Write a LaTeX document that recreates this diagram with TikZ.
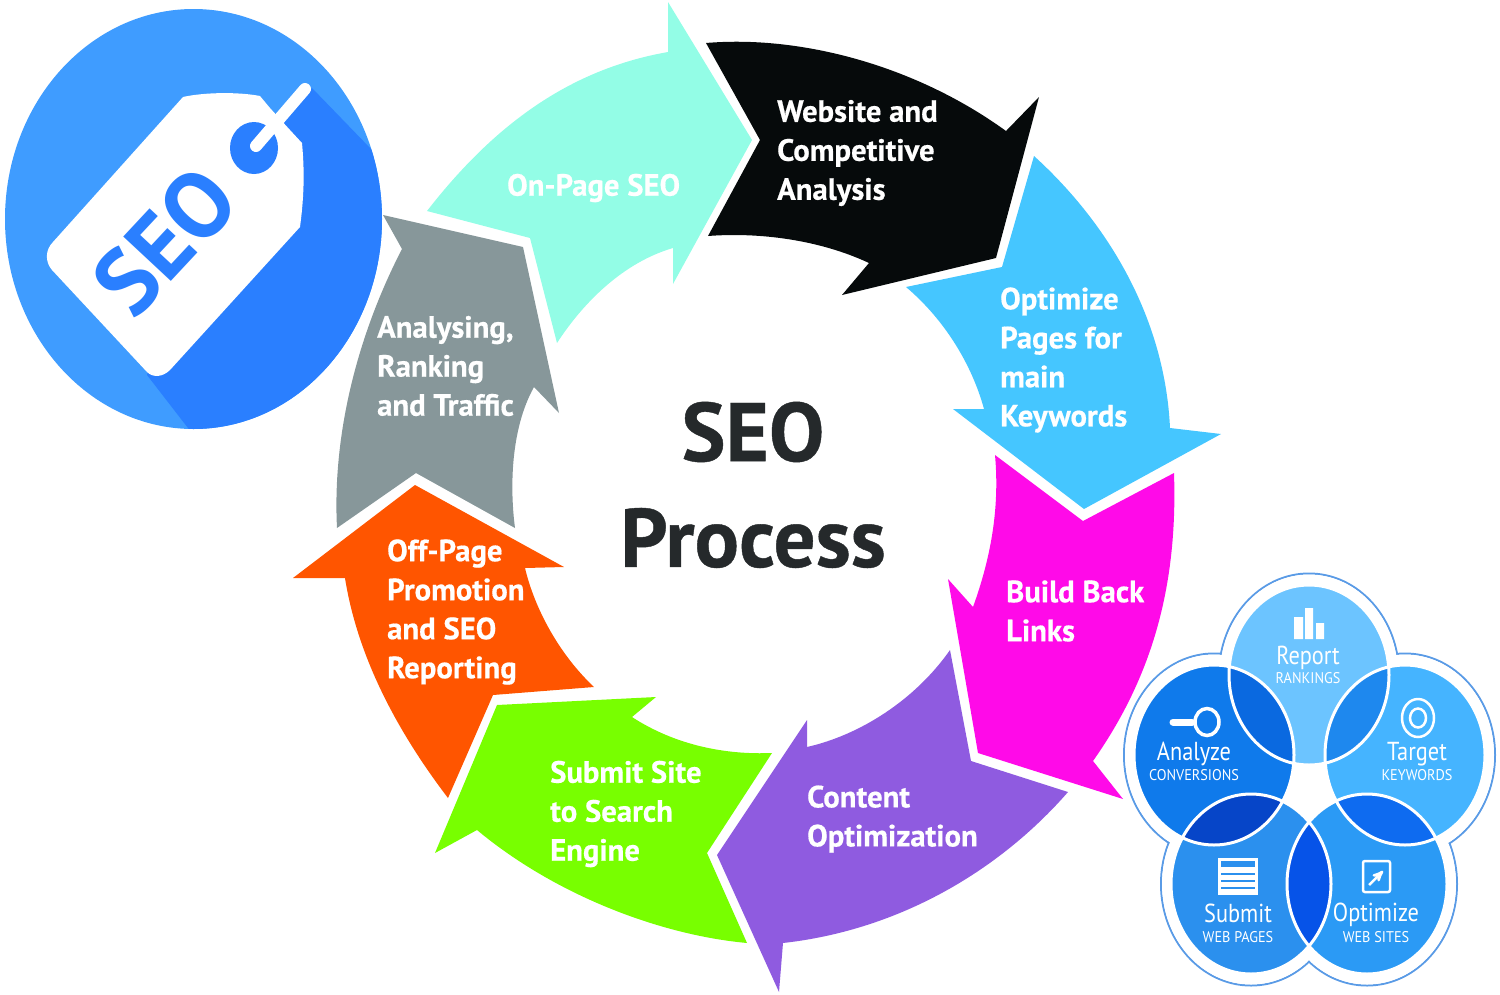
\documentclass[tikz,border=0pt]{standalone}
\usepackage{fontspec}
\setmainfont{PT Sans}[BoldFeatures={FakeBold=0.5}]
\newfontfamily\tagfont{PT Sans}
\newfontfamily\vennfont{PT Sans}[FakeStretch=0.86]
\newfontfamily\vennsmall{PT Sans}[FakeStretch=0.92]
\usetikzlibrary{arrows, positioning}
\definecolor{onpage}{HTML}{93FDE6}
\definecolor{website}{HTML}{060A0B}
\definecolor{optimize}{HTML}{45C6FF}
\definecolor{backlink}{HTML}{FF0AE8}
\definecolor{content}{HTML}{8F5BE0}
\definecolor{submit}{HTML}{78FF00}
\definecolor{offpage}{HTML}{FF5500}
\definecolor{ranking}{HTML}{87979A}
\definecolor{titletext}{HTML}{25292B}
\definecolor{tagback}{HTML}{3F9CFF}
\definecolor{tagdark}{HTML}{2A7FFF}
\definecolor{vReport}{HTML}{6CC4FF}
\definecolor{vAnalyze}{HTML}{0F7AEB}
\definecolor{vTarget}{HTML}{45B4FF}
\definecolor{vSubmit}{HTML}{2B90EE}
\definecolor{vOptimize}{HTML}{2B9AF5}
\definecolor{lensRA}{HTML}{0A69E0}
\definecolor{lensRT}{HTML}{1E88EE}
\definecolor{lensAS}{HTML}{0645C8}
\definecolor{lensTO}{HTML}{0E6BF0}
\definecolor{lensSO}{HTML}{0653E8}
\definecolor{halo}{HTML}{5A9BE6}

\begin{document}
\begin{tikzpicture}
	[x=1pt,y=-1pt,>=stealth',
	step label/.style={font=\bfseries\fontsize{30.7}{39}\selectfont,text=white,align=left,anchor=west,inner sep=0pt},
	title label/.style={font=\bfseries\fontsize{83}{100}\selectfont,text=titletext,inner sep=0pt},
	venn big/.style={font=\vennfont\fontsize{26}{30}\selectfont,text=white,inner sep=0pt},
	venn small/.style={font=\vennsmall\fontsize{15.5}{18}\selectfont,text=white,inner sep=0pt}]
	\useasboundingbox (0,0) rectangle (1500,994);

	% tag logo
	\coordinate (logo) at (193.5,219);
	\fill[tagback] (logo) ellipse [x radius=188.5,y radius=210];
	\begin{scope}
		\clip (logo) ellipse [x radius=188.5,y radius=210];
		\fill[tagdark] (312,88) -- (430,210) -- (430,450) -- (205,450) -- (147,375) -- (200,200) -- cycle;
	\end{scope}
	\fill[white] (183,97) .. controls (205,92) and (240,92) .. (260,96) -- (270,108) -- (290,130) -- (302,143)
		.. controls (304,165) and (305,190) .. (300,227) -- (170,370)
		.. controls (163,377) and (153,378) .. (147,372) -- (52,270)
		.. controls (45,262) and (45,250) .. (53,242) -- cycle;
	\fill[tagdark] (254,148) ellipse [x radius=24,y radius=26];
	\draw[white,line width=12pt,line cap=round] (256,146) -- (305,89);
	\node (tagtext) [rotate=47,text=tagdark,inner sep=0pt,font=\tagfont\bfseries\fontsize{93}{100}\selectfont] at (165,241) {SEO};

	% the eight arrows
	\fill[ranking] (383,215) -- (523,247) -- (559,413) -- (534,387) .. controls (510,430) and (510,490) .. (515,528)
		-- (416,473) -- (337,528) .. controls (332,430) and (360,330) .. (402,249) -- cycle;
	\fill[onpage] (427,211) .. controls (490,130) and (565,70) .. (668,52) -- (668,2) -- (752,140) -- (673,284) -- (673,248)
		.. controls (625,262) and (585,300) .. (557,343) -- (530,238) -- cycle;
	\fill[website] (706,43) .. controls (800,35) and (915,65) .. (1006,131) -- (1039,97) -- (996,258) -- (842,295) -- (869,263)
		.. controls (820,240) and (760,232) .. (708,236) -- (760,140) -- cycle;
	\fill[optimize] (1034,156) .. controls (1110,225) and (1165,320) .. (1170,428) -- (1221,434) -- (1084,509) -- (953,409)
		-- (984,409) .. controls (972,365) and (945,320) .. (906,287) -- (1002,267) -- cycle;
	\fill[backlink] (995,455) -- (1083,521) -- (1174,473) .. controls (1178,590) and (1150,680) .. (1093,761) -- (1123,799)
		-- (978,753) -- (948,579) -- (973,607) .. controls (990,560) and (1000,510) .. (995,455) -- cycle;
	\fill[content] (950,650) -- (971,761) -- (1068,792) .. controls (1000,870) and (900,930) .. (783,943) -- (779,992)
		-- (717,855) -- (807,720) -- (807,747) .. controls (860,735) and (915,700) .. (950,650) -- cycle;
	\fill[submit] (497,705) -- (656,697) -- (632,717) .. controls (675,745) and (725,755) .. (772,753) -- (707,853) -- (747,943)
		.. controls (660,935) and (555,895) .. (477,830) -- (435,853) -- cycle;
	\fill[offpage] (415,485) -- (564,567) -- (525,568) .. controls (535,610) and (560,655) .. (594,687) -- (493,695) -- (448,798)
		.. controls (400,735) and (358,660) .. (345,578) -- (293,578) -- cycle;

	\node (OnPage) [step label] at (507,188) {On-Page SEO};
	\node (Website) [step label] at (777,153) {Website and\\Competitive\\Analysis};
	\node (Pages) [step label] at (1000,360) {Optimize\\Pages for\\main\\Keywords};
	\node (Links) [step label] at (1006,611) {Build Back\\Links};
	\node (Content) [step label] at (807,819) {Content\\Optimization};
	\node (Engine) [step label] at (550,814) {Submit Site\\to Search\\Engine};
	\node (OffPage) [step label] at (387,612) {Off-Page\\Promotion\\and SEO\\Reporting};
	\node (Traffic) [step label] at (377,366) {Analysing,\\Ranking\\and Traffic};

	\node (Seo) [title label] at (753,432) {SEO};
	\node (Process) [title label] at (753,538) {Process};

	% five circles
	\coordinate (R) at (1309,675);
	\coordinate (A) at (1214,755);
	\coordinate (T) at (1405,755);
	\coordinate (S) at (1251,884);
	\coordinate (O) at (1367,884);
	\foreach \c in {R,A,T,S,O}
		\draw[halo,line width=2pt] (\c) ellipse [x radius=90,y radius=101.5];
	\foreach \c in {R,A,T,S,O}
		\fill[white] (\c) ellipse [x radius=89,y radius=100.5];
	\fill[white] (1309,800) ellipse [x radius=35,y radius=35];
	\foreach \c/\col in {R/vReport,A/vAnalyze,T/vTarget,S/vSubmit,O/vOptimize}
		\fill[\col] (\c) ellipse [x radius=80,y radius=90];
	\foreach \a/\b/\col in {R/A/lensRA,R/T/lensRT,A/S/lensAS,T/O/lensTO,S/O/lensSO}{
		\begin{scope}
			\clip (\a) ellipse [x radius=80,y radius=90];
			\fill[\col] (\b) ellipse [x radius=80,y radius=90];
		\end{scope}
	}
	\foreach \c in {R,A,T,S,O}
		\draw[white,line width=3pt] (\c) ellipse [x radius=80,y radius=90];

	% icons
	\fill[white] (1294,617) rectangle (1303,639) (1305,608) rectangle (1313,639) (1316,623) rectangle (1324,639);
	\draw[white,line width=3.5pt] (1207,722) ellipse [x radius=12,y radius=13.5];
	\draw[white,line width=7pt,line cap=round] (1173,722) -- (1192,722);
	\draw[white,line width=2.5pt] (1418,718) ellipse [x radius=16,y radius=19] (1418,718) ellipse [x radius=8,y radius=9.5];
	\fill[white] (1218,858) rectangle (1258,895);
	\fill[vSubmit] (1221,861) rectangle (1255,867);
	\foreach \y in {873,880,887}
		\fill[vSubmit] (1221,\y) rectangle (1255,\y+2);
	\draw[white,line width=2.5pt,rounded corners=2pt] (1363,861) rectangle (1390,892);
	\draw[->,white,line width=2.5pt] (1369,885) -- (1383,871);

	\node (Report) [venn big] at (1308,658) {Report};
	\node (Rankings) [venn small] at (1308,678) {RANKINGS};
	\node (Analyze) [venn big] at (1194,754) {Analyze};
	\node (Conversions) [venn small] at (1194,775) {CONVERSIONS};
	\node (Target) [venn big] at (1417,754) {Target};
	\node (Keywords) [venn small] at (1417,775) {KEYWORDS};
	\node (Submit) [venn big] at (1238,913) {Submit};
	\node (WebPages) [venn small] at (1238,937) {WEB PAGES};
	\node (Optimize) [venn big] at (1376,915) {Optimize};
	\node (WebSites) [venn small] at (1376,937) {WEB SITES};
\end{tikzpicture}
\end{document}
